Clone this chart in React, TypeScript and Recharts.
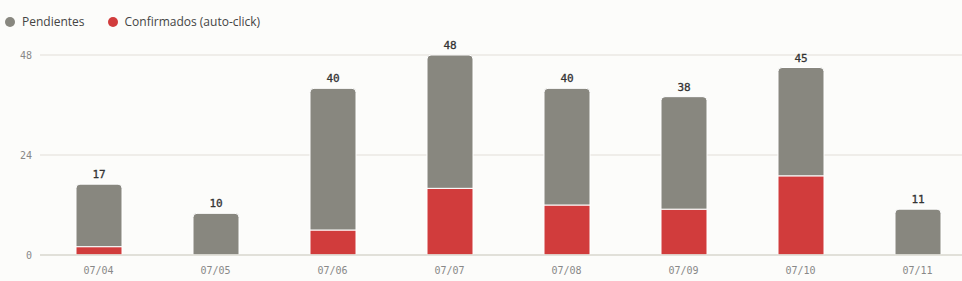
import {
  BarChart,
  Bar,
  XAxis,
  YAxis,
  CartesianGrid,
  LabelList,
} from "recharts";

const DAYS = ["07/04", "07/05", "07/06", "07/07", "07/08", "07/09", "07/10", "07/11"];
const TOTALS = [17, 10, 40, 48, 40, 38, 45, 11];
const CONFIRMED = [2, 0, 6, 16, 12, 11, 19, 0];
const Y_TICKS = [0, 24, 48];

const GRAY = "#88877f";
const RED = "#d13c3c";
const BG = "#fcfcfa";
const MONO = "'DejaVu Sans Mono', monospace";

const data = DAYS.map((day, i) => ({
  day,
  confirmados: CONFIRMED[i],
  pendientes: TOTALS[i] - CONFIRMED[i],
  total: TOTALS[i],
}));

const LEGEND_ITEMS = [
  { label: "Pendientes", color: GRAY },
  { label: "Confirmados (auto-click)", color: RED },
];

const ChartLegend = () => (
  <div
    style={{
      position: "absolute",
      top: 14,
      left: 5,
      display: "flex",
      gap: 23,
      fontFamily: "'Open Sans', sans-serif",
      fontSize: 12,
      lineHeight: "16px",
      color: "#444",
    }}
  >
    {LEGEND_ITEMS.map((item) => (
      <span key={item.label} style={{ display: "flex", alignItems: "center", gap: 7 }}>
        <span
          style={{
            width: 10,
            height: 10,
            borderRadius: "50%",
            background: item.color,
            display: "inline-block",
          }}
        />
        {item.label}
      </span>
    ))}
  </div>
);

export default function App() {
  return (
    <div
      style={{
        position: "absolute",
        left: 0,
        top: 0,
        width: 962,
        height: 281,
        overflow: "hidden",
        background: BG,
      }}
    >
      <ChartLegend />
      <BarChart
        width={980}
        height={281}
        data={data}
        margin={{ top: 55, right: 4, bottom: 6, left: 0 }}
        barSize={46}
      >
        <CartesianGrid vertical={false} stroke="#ebe9e3" strokeWidth={1.5} />
        <XAxis
          dataKey="day"
          axisLine={{ stroke: "#dddbd3", strokeWidth: 1.5 }}
          tickLine={false}
          tick={{ fontFamily: MONO, fontSize: 10, fill: "#888" }}
          tickMargin={6}
          height={20}
        />
        <YAxis
          width={40}
          domain={[0, 48]}
          ticks={Y_TICKS}
          axisLine={false}
          tickLine={false}
          tick={{ fontFamily: MONO, fontSize: 10, fill: "#888" }}
        />
        <Bar
          dataKey="confirmados"
          stackId="a"
          fill={RED}
          stroke="#ffffff"
          strokeWidth={1}
          isAnimationActive={false}
        />
        <Bar
          dataKey="pendientes"
          stackId="a"
          fill={GRAY}
          stroke="#ffffff"
          strokeWidth={1}
          radius={[4, 4, 0, 0]}
          isAnimationActive={false}
        >
          <LabelList
            dataKey="total"
            position="top"
            offset={6}
            style={{ fontFamily: MONO, fontSize: 11, fill: "#333", stroke: "#333", strokeWidth: 0.3 }}
          />
        </Bar>
      </BarChart>
    </div>
  );
}
